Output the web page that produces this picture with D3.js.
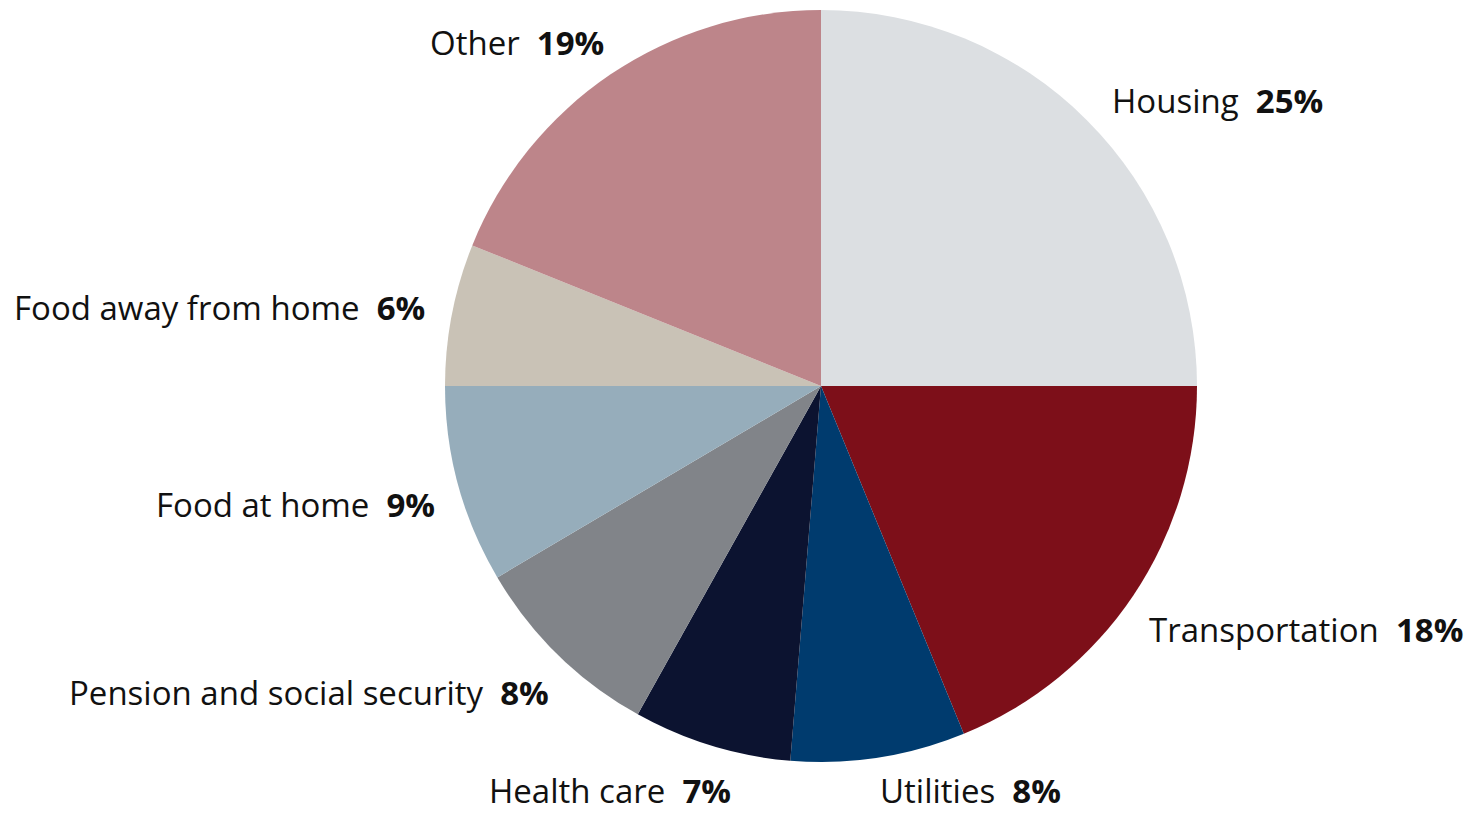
<!DOCTYPE html>
<html><head><meta charset="utf-8">
<script src="https://cdn.jsdelivr.net/npm/d3@7"></script>
<style>body{margin:0;background:#fff;} svg{display:block;}</style>
</head><body>
<svg id="chart" width="1471" height="814"></svg>
<script>
const categories = ["Housing","Transportation","Utilities","Health care","Pension and social security","Food at home","Food away from home","Other"];
const values = [25, 18.8, 7.5, 6.8, 8.4, 8.5, 6.1, 18.9];
const pctLabels = ["25%","18%","8%","7%","8%","9%","6%","19%"];
const colors = ["#dcdfe2","#7d0f19","#003b6e","#0c1330","#818489","#96adbb","#c9c2b6","#bd858a"];
// label anchor: [x, y] start positions
const labelPos = [[1112,113],[1149,642],[880,803],[489,803],[69,705],[156,517],[14,320],[430,55]];

const svg = d3.select("#chart");
const cx = 821, cy = 386, r = 376;
const pie = d3.pie().sort(null).value(d => d)(values);
const arc = d3.arc().innerRadius(0).outerRadius(r);
const g = svg.append("g").attr("transform", `translate(${cx},${cy})`);
g.selectAll("path").data(pie).join("path")
  .attr("d", arc).attr("fill", (d,i) => colors[i]);

const labels = svg.append("g").attr("font-family", "'Open Sans', sans-serif").attr("font-size", 33).attr("fill", "#111");
categories.forEach((c,i) => {
  const t = labels.append("text").attr("x", labelPos[i][0]).attr("y", labelPos[i][1]);
  t.append("tspan").text(c + "\u00a0\u00a0");
  t.append("tspan").attr("font-weight", "bold").text(pctLabels[i]);
});
</script>
</body></html>
